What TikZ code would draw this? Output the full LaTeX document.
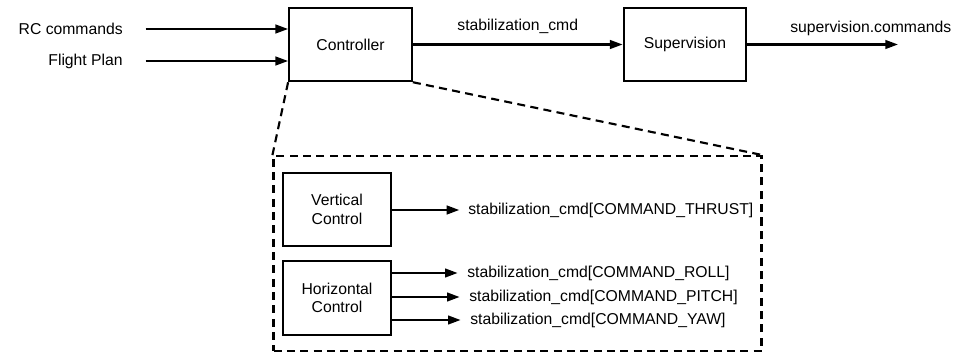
\documentclass[tikz,border=0pt]{standalone}
\usepackage{fontspec}
\setmainfont{Liberation Sans}
\usetikzlibrary{arrows.meta, positioning}

\begin{document}
\begin{tikzpicture}[
    x=0.75pt, y=-0.75pt,
    font=\fontsize{11.8}{14}\selectfont,
    box/.style={rectangle, draw, line width=1.6pt, minimum width=92pt,
                minimum height=55pt, align=center},
    subbox/.style={box, minimum width=81pt},
    detail/.style={rectangle, draw, line width=1.6pt, dash pattern=on 6pt off 4pt,
                minimum width=366pt, minimum height=146pt},
    arrow/.style={-{Triangle[length=9.5pt, width=6.5pt]}, line width=1.6pt},
    zoomline/.style={line width=1.6pt, dash pattern=on 6pt off 4pt},
    sig/.style={inner sep=0pt}
]
\useasboundingbox (0,0) rectangle (968,356);

\node[box] (ctrl) at (350.5,44.5) {Controller};
\node[box] (superv) at (685,44.5) {Supervision};
\node[detail] (zoom) at (517.5,253.5) {};
\node[subbox] (vert) at (337,209.5) {Vertical\\Control};
\node[subbox] (horiz) at (337,298) {Horizontal\\Control};

% inputs
\node[sig, anchor=east] (rc) at (123,29) {RC commands};
\node[sig, anchor=east] (fp) at (123,61) {Flight Plan};
\draw[arrow, shorten <=17pt] (rc.east) -- (rc.east -| ctrl.west);
\draw[arrow, shorten <=17pt] (fp.east) -- (fp.east -| ctrl.west);

% main chain
\draw[arrow] (ctrl) -- node[above=4pt] (stab) {stabilization\_cmd} (superv);
\coordinate (out) at (898,44.5);
\draw[arrow] (superv) -- (out);
\node[sig, anchor=west] (supcmd) at (790,28) {supervision.commands};

% zoom on the controller
\draw[zoomline] (ctrl.south west) -- (zoom.north west);
\draw[zoomline] (ctrl.south east) -- (zoom.north east);

\node[sig, anchor=west] (thrust) at (468,210) {stabilization\_cmd[COMMAND\_THRUST]};
\node[sig, anchor=west] (roll) at (467,273) {stabilization\_cmd[COMMAND\_ROLL]};
\node[sig, anchor=west] (pitch) at (469,297) {stabilization\_cmd[COMMAND\_PITCH]};
\node[sig, anchor=west] (yaw) at (470,320) {stabilization\_cmd[COMMAND\_YAW]};

\draw[arrow, shorten >=6.5pt] (vert.east |- thrust.west) -- (thrust.west);
\draw[arrow, shorten >=7pt] (horiz.east |- roll.west) -- (roll.west);
\draw[arrow, shorten >=7pt] (horiz.east |- pitch.west) -- (pitch.west);
\draw[arrow, shorten >=7pt] (horiz.east |- yaw.west) -- (yaw.west);
\end{tikzpicture}
\end{document}
